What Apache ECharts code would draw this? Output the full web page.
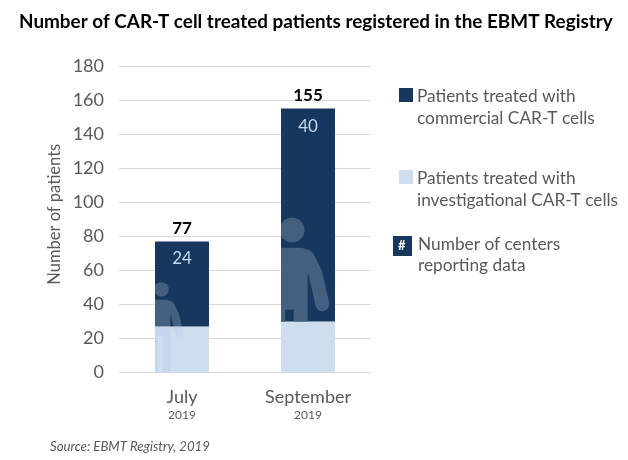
<!DOCTYPE html>
<html>
<head>
<meta charset="utf-8">
<title>CAR-T patients</title>
<style>
html,body{margin:0;padding:0;background:#fff;}
#chart{width:628px;height:460px;}
</style>
<script src="https://cdn.jsdelivr.net/npm/echarts@6/dist/echarts.min.js"></script>
</head>
<body>
<div id="chart"></div>
<script>
var months = ['July', 'September'];
var years = ['2019', '2019'];
var investigational = [27, 30];
var commercial = [50, 125];
var totals = [77, 155];
var centers = [24, 40];
var yTicks = [0, 20, 40, 60, 80, 100, 120, 140, 160, 180];
// where the top of the person's head sits, read on the y axis
var figureTops = [53, 91];
var legendLabels = [
    'Patients treated with\ncommercial CAR-T cells',
    'Patients treated with\ninvestigational CAR-T cells',
    'Number of centers\nreporting data'
];

var DARK = '#17375e';
var LIGHT = '#cfdeef';
var GREY = '#595959';
var FONT = 'Lato, "Open Sans", sans-serif';
var BAR_W = 54;

// person silhouette inside the bar, cut off by the bar edges
function drawFigure(params, api) {
    var i = api.value(0);
    var x = api.coord([i, 0])[0];
    var left = x - BAR_W / 2;
    var base = api.coord([i, 0])[1];
    var split = api.coord([i, investigational[i]])[1];
    var top = api.coord([i, totals[i]])[1];
    var headTop = api.coord([i, api.value(1)])[1];
    var h = base - headTop;
    var cx = left + h * 0.072;
    function pt(a, b) { return [cx + a * h, headTop + b * h]; }
    var body = [
        pt(-0.2, 0.24), pt(-0.12, 0.195), pt(0.06, 0.195), pt(0.12, 0.215), pt(0.15, 0.26),
        pt(0.1, 0.34), pt(0.1, 1), pt(0.01, 1), pt(0.01, 0.595), pt(-0.045, 0.595), pt(-0.045, 1), pt(-0.2, 1)
    ];
    var arm = [pt(0.1, 0.26), pt(0.15, 0.36), pt(0.195, 0.56)];
    function person(color) {
        return [
            { type: 'circle', shape: { cx: cx, cy: headTop + h * 0.08, r: h * 0.08 }, style: { fill: color } },
            { type: 'polygon', shape: { points: body }, style: { fill: color } },
            { type: 'polyline', shape: { points: arm }, style: { fill: null, stroke: color, lineWidth: h * 0.09, lineCap: 'round', lineJoin: 'round' } }
        ];
    }
    var children = [{
        type: 'group',
        clipPath: { type: 'rect', shape: { x: left, y: top, width: BAR_W, height: split - top } },
        children: person('#45607f')
    }];
    // only the July figure shows through the light segment
    if (i === 0) {
        children.push({
            type: 'group',
            clipPath: { type: 'rect', shape: { x: left, y: split, width: BAR_W, height: base - split } },
            children: person('#c4d7ee')
        });
    }
    return { type: 'group', children: children };
}

function legendItem(y, color, label) {
    return [
        { type: 'rect', left: 399, top: y + 2, shape: { width: 14, height: 14 }, style: { fill: color } },
        { type: 'text', left: 417, top: y - 1, style: { text: label, font: '17.3px ' + FONT, fill: GREY, lineHeight: 22 } }
    ];
}

var chart = echarts.init(document.getElementById('chart'));
var option = {
    animation: false,
    backgroundColor: '#fff',
    textStyle: { fontFamily: FONT },
    title: {
        text: 'Number of CAR-T cell treated patients registered in the EBMT Registry',
        left: 14,
        top: 7,
        textStyle: { fontSize: 18.9, fontWeight: 'bold', color: '#000', fontFamily: FONT }
    },
    grid: { left: 119, top: 66, width: 252, height: 306.5 },
    xAxis: {
        type: 'category',
        data: months,
        axisTick: { show: false },
        axisLine: { lineStyle: { color: '#d9d9d9', width: 1 } },
        axisLabel: {
            margin: 14,
            formatter: function (v, idx) { return '{m|' + v + '}\n{y|' + years[idx] + '}'; },
            rich: {
                m: { fontSize: 18, color: GREY, lineHeight: 21, fontFamily: FONT },
                y: { fontSize: 12, color: GREY, lineHeight: 15, fontFamily: FONT }
            }
        }
    },
    yAxis: {
        type: 'value',
        min: yTicks[0],
        max: yTicks[yTicks.length - 1],
        interval: yTicks[1] - yTicks[0],
        name: 'Number of patients',
        nameLocation: 'middle',
        nameGap: 56,
        nameRotate: 90,
        nameTextStyle: { fontSize: 16.5, color: GREY, fontFamily: FONT, padding: [0, 0, 0, 10] },
        axisLine: { show: false },
        axisTick: { show: false },
        axisLabel: { fontSize: 18, color: GREY, margin: 15 },
        splitLine: { lineStyle: { color: '#d9d9d9', width: 1 } }
    },
    series: [
        {
            name: 'Patients treated with investigational CAR-T cells',
            type: 'bar',
            stack: 'patients',
            barWidth: BAR_W,
            data: investigational,
            itemStyle: { color: LIGHT }
        },
        {
            name: 'Patients treated with commercial CAR-T cells',
            type: 'bar',
            stack: 'patients',
            barWidth: BAR_W,
            data: commercial,
            itemStyle: { color: DARK },
            label: {
                show: true,
                position: 'insideTop',
                distance: 9,
                fontSize: 17,
                color: '#c6d9f1',
                formatter: function (p) { return centers[p.dataIndex]; }
            }
        },
        {
            name: 'Person',
            type: 'custom',
            renderItem: drawFigure,
            silent: true,
            z: 3,
            data: figureTops.map(function (v, i) { return [i, v]; })
        },
        {
            name: 'Total',
            type: 'line',
            data: totals,
            symbol: 'circle',
            symbolSize: 1,
            itemStyle: { color: 'transparent' },
            lineStyle: { width: 0 },
            z: 5,
            label: {
                show: true,
                position: 'top',
                distance: 4,
                fontSize: 17,
                fontWeight: 'bold',
                color: '#000'
            }
        }
    ],
    graphic: [].concat(
        legendItem(86, DARK, legendLabels[0]),
        legendItem(168, LIGHT, legendLabels[1]),
        [
            { type: 'rect', left: 393, top: 236, shape: { width: 19, height: 20 }, style: { fill: DARK } },
            { type: 'text', left: 398, top: 239, style: { text: '#', font: 'bold 13px ' + FONT, fill: '#fff' } },
            { type: 'text', left: 418, top: 234, style: { text: legendLabels[2], font: '17.3px ' + FONT, fill: GREY, lineHeight: 21 } },
            { type: 'text', left: 50, top: 440, style: { text: 'Source: EBMT Registry, 2019', font: 'italic 13.2px ' + FONT, fill: GREY } }
        ]
    )
};
chart.setOption(option);
</script>
</body>
</html>
